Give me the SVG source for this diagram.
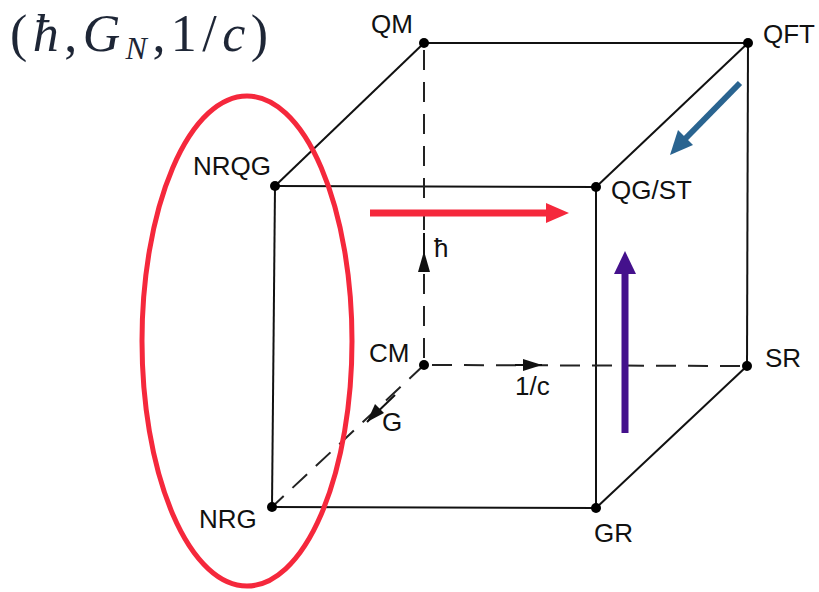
<svg xmlns="http://www.w3.org/2000/svg" width="819" height="592" viewBox="0 0 819 592">
<style>
.e{stroke:#111;stroke-width:2;fill:none}
.d{stroke:#222;stroke-width:2;fill:none;stroke-dasharray:20 12}
.n{fill:#000}
.t{font-family:"Liberation Sans",Arial,sans-serif;font-size:26px;fill:#111}
.ah{fill:#111}
</style>
<rect width="819" height="592" fill="#fff"/>
<text x="10" y="51" font-family="'Liberation Serif','DejaVu Serif',serif" font-size="52" fill="#1e2636" textLength="258" lengthAdjust="spacing">(<tspan font-style="italic">ħ</tspan>,<tspan font-style="italic">G</tspan><tspan font-style="italic" font-size="32" dy="8">N</tspan><tspan dy="-8">,1/</tspan><tspan font-style="italic">c</tspan>)</text>
<g id="connectors">
<line class="e" x1="424" y1="43" x2="748" y2="43"/>
<line class="e" x1="424" y1="43" x2="275" y2="186"/>
<line class="e" x1="748" y1="43" x2="596" y2="187"/>
<line class="e" x1="748" y1="43" x2="747" y2="366"/>
<line class="e" x1="275" y1="186" x2="596" y2="187"/>
<line class="e" x1="275" y1="186" x2="272" y2="507"/>
<line class="e" x1="596" y1="187" x2="596" y2="508"/>
<line class="e" x1="272" y1="507" x2="596" y2="508"/>
<line class="e" x1="747" y1="366" x2="596" y2="508"/>
<line class="d" x1="424" y1="50" x2="424" y2="365"/>
<line class="d" x1="432" y1="365" x2="747" y2="366"/>
<line class="d" x1="424" y1="365" x2="272" y2="507"/>
<line x1="424" y1="233" x2="424" y2="272" stroke="#111" stroke-width="2"/>
<path class="ah" d="M424,251 L418,272 L430,272 z"/>
<line x1="515" y1="365" x2="542" y2="365" stroke="#111" stroke-width="2"/>
<path class="ah" d="M542,365 L523,359 L523,371 z"/>
<line x1="395" y1="395" x2="367" y2="422" stroke="#111" stroke-width="2"/>
<path class="ah" d="M367,422 L375,404 L384,413 z"/>
</g>
<g id="QM"><circle class="n" cx="424" cy="43" r="5"/><text class="t" x="371" y="33">QM</text></g>
<g id="QFT"><circle class="n" cx="748" cy="43" r="5"/><text class="t" x="763" y="43">QFT</text></g>
<g id="NRQG"><circle class="n" cx="275" cy="186" r="5"/><text class="t" x="193" y="175">NRQG</text></g>
<g id="QGST"><circle class="n" cx="596" cy="187" r="5"/><text class="t" x="611" y="199">QG/ST</text></g>
<g id="CM"><circle class="n" cx="424" cy="365" r="5"/><text class="t" x="369" y="362">CM</text></g>
<g id="SR"><circle class="n" cx="747" cy="366" r="5"/><text class="t" x="765" y="367">SR</text></g>
<g id="NRG"><circle class="n" cx="272" cy="507" r="5"/><text class="t" x="199" y="528">NRG</text></g>
<g id="GR"><circle class="n" cx="596" cy="508" r="5"/><text class="t" x="594" y="542">GR</text></g>
<text class="t" x="434" y="257">ħ</text>
<text class="t" x="515" y="395">1/c</text>
<text class="t" x="382" y="431">G</text>
<g id="highlights">
<ellipse cx="247" cy="341" rx="105" ry="245" fill="none" stroke="#f5283c" stroke-width="5"/>
<line x1="370" y1="213" x2="548" y2="213" stroke="#f5283c" stroke-width="7"/>
<path d="M569,213 L546,203 L546,223 z" fill="#f5283c"/>
<line x1="740" y1="83" x2="685" y2="139" stroke="#2a6490" stroke-width="6"/>
<path d="M670,155 L678,130 L693,145 z" fill="#2a6490"/>
<line x1="625" y1="433" x2="625" y2="272" stroke="#44118c" stroke-width="7"/>
<path d="M625,251 L614,274 L636,274 z" fill="#44118c"/>
</g>
</svg>
